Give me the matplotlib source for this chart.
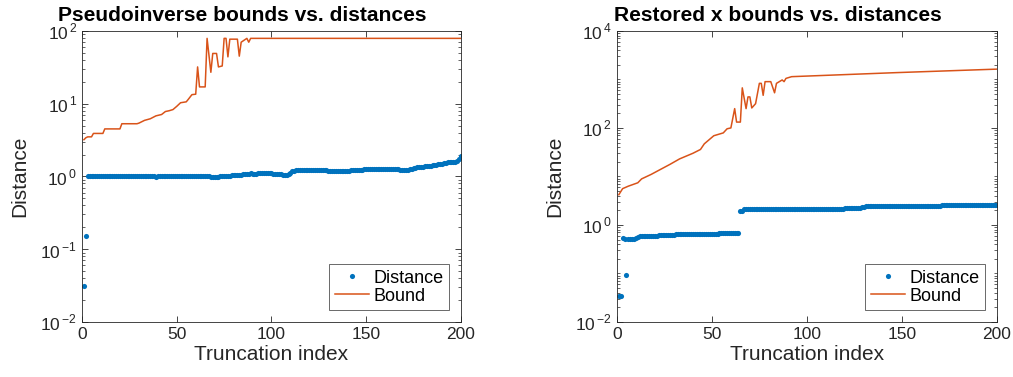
import matplotlib
matplotlib.use('Agg')
import matplotlib.pyplot as plt
import numpy as np
from matplotlib.ticker import LogLocator, FixedLocator, NullFormatter, FuncFormatter

plt.rcParams['font.family'] = ['Liberation Sans', 'DejaVu Sans']
plt.rcParams['mathtext.fontset'] = 'custom'
plt.rcParams['mathtext.rm'] = 'Liberation Sans'

blue = '#0072BD'
orange = '#D95319'
grey = '#262626'

# ---- left panel: pseudoinverse ----
dist_left = [
  0.031, 0.15, 1.0, 1.0, 1.0, 1.0, 1.0, 1.0, 1.0, 1.0,
  1.0, 1.0, 1.0, 1.0, 1.0, 1.0, 1.0, 1.0, 1.0, 1.0,
  1.0, 1.0, 1.0, 1.0, 1.0, 1.0, 1.0, 1.0, 1.0, 1.0,
  1.0, 1.0, 1.0, 1.0, 1.0, 1.0, 1.0, 1.0, 0.97, 1.0,
  1.0, 1.0, 1.0, 1.0, 1.01, 1.01, 1.01, 1.01, 1.01, 1.01,
  1.01, 1.01, 1.01, 1.01, 1.01, 1.01, 1.01, 1.01, 1.01, 1.01,
  1.01, 1.01, 1.01, 1.01, 1.0, 1.0, 1.0, 0.99, 0.98, 0.98,
  0.98, 0.99, 1.0, 1.0, 1.01, 1.02, 1.03, 1.03, 1.04, 1.04,
  1.05, 1.05, 1.04, 1.06, 1.07, 1.07, 1.08, 1.09, 1.1, 1.08,
  1.07, 1.08, 1.1, 1.12, 1.13, 1.12, 1.12, 1.11, 1.1, 1.1,
  1.09, 1.08, 1.08, 1.07, 1.07, 1.06, 1.06, 1.06, 1.07, 1.1,
  1.17, 1.2, 1.21, 1.22, 1.22, 1.22, 1.22, 1.22, 1.22, 1.22,
  1.22, 1.22, 1.22, 1.22, 1.22, 1.21, 1.21, 1.21, 1.21, 1.2,
  1.2, 1.2, 1.2, 1.19, 1.19, 1.19, 1.18, 1.18, 1.18, 1.19,
  1.2, 1.22, 1.23, 1.23, 1.23, 1.24, 1.24, 1.24, 1.25, 1.25,
  1.25, 1.25, 1.26, 1.26, 1.26, 1.26, 1.27, 1.27, 1.27, 1.27,
  1.27, 1.26, 1.26, 1.26, 1.25, 1.25, 1.25, 1.24, 1.24, 1.24,
  1.24, 1.24, 1.25, 1.26, 1.3, 1.32, 1.33, 1.33, 1.34, 1.35,
  1.37, 1.38, 1.4, 1.41, 1.42, 1.43, 1.45, 1.47, 1.48, 1.5,
  1.52, 1.55, 1.56, 1.56, 1.57, 1.57, 1.58, 1.65, 1.75, 1.9,
]
bound_left_idx = [1, 2, 3, 5, 6, 11, 12, 20, 21, 29, 30, 33, 36, 39, 42, 44, 46, 48, 50, 52,
                  55, 56, 58, 60, 61, 62, 65, 66, 68, 69, 71, 72, 74, 75, 76, 77, 78, 82, 83,
                  84, 87, 88, 89, 200]
bound_left = [3.2, 3.4, 3.5, 3.5, 3.9, 3.9, 4.5, 4.5, 5.3, 5.3, 5.4, 5.9, 6.2, 6.8, 7.1, 7.8, 8.0,
              8.3, 9.2, 10.3, 10.6, 11.4, 13.3, 13.5, 32, 17, 17, 79, 27, 49, 49, 32, 33, 79, 79,
              44, 77, 77, 45, 70, 79, 70, 79, 79]

# ---- right panel: restored x ----
dist_right = [
  0.034, 0.034, 0.55, 0.52, 0.094, 0.51, 0.51, 0.51, 0.52, 0.53,
  0.56, 0.58, 0.58, 0.58, 0.59, 0.59, 0.59, 0.59, 0.60, 0.60,
  0.60, 0.61, 0.61, 0.61, 0.62, 0.62, 0.62, 0.63, 0.63, 0.63,
  0.64, 0.64, 0.64, 0.64, 0.65, 0.65, 0.65, 0.65, 0.65, 0.65,
  0.65, 0.65, 0.66, 0.66, 0.66, 0.66, 0.66, 0.66, 0.66, 0.66,
  0.66, 0.66, 0.66, 0.67, 0.67, 0.67, 0.67, 0.67, 0.67, 0.67,
  0.67, 0.67, 0.67, 0.68, 1.9, 1.95, 2.1, 2.15, 2.15, 2.15,
  2.15, 2.15, 2.15, 2.15, 2.14, 2.14, 2.14, 2.13, 2.13, 2.13,
  2.12, 2.12, 2.12, 2.12, 2.11, 2.11, 2.11, 2.11, 2.1, 2.1,
  2.1, 2.1, 2.1, 2.1, 2.1, 2.1, 2.11, 2.11, 2.12, 2.12,
  2.13, 2.13, 2.14, 2.14, 2.15, 2.15, 2.15, 2.16, 2.16, 2.16,
  2.17, 2.17, 2.17, 2.17, 2.18, 2.18, 2.18, 2.18, 2.18, 2.19,
  2.19, 2.19, 2.2, 2.2, 2.2, 2.2, 2.2, 2.22, 2.3, 2.4,
  2.45, 2.48, 2.5, 2.5, 2.5, 2.5, 2.5, 2.5, 2.5, 2.5,
  2.5, 2.5, 2.5, 2.5, 2.5, 2.5, 2.5, 2.5, 2.5, 2.5,
  2.5, 2.5, 2.5, 2.5, 2.5, 2.5, 2.5, 2.5, 2.5, 2.5,
  2.5, 2.5, 2.5, 2.51, 2.51, 2.51, 2.51, 2.51, 2.51, 2.51,
  2.52, 2.52, 2.52, 2.52, 2.52, 2.52, 2.53, 2.53, 2.53, 2.53,
  2.54, 2.54, 2.54, 2.55, 2.55, 2.55, 2.56, 2.56, 2.57, 2.57,
  2.57, 2.58, 2.58, 2.58, 2.59, 2.59, 2.6, 2.6, 2.6, 2.62,
]
bound_right_idx = [1, 3, 6, 11, 13, 18, 23, 28, 33, 40, 44, 46, 51, 56, 58, 60, 62, 63, 65, 66,
                   68, 69, 70, 71, 73, 75, 76, 77, 78, 81, 83, 84, 87, 88, 89, 92, 147, 200]
bound_right = [4.2, 5.6, 6.3, 7.4, 8.9, 11, 14, 17.8, 23, 30, 36, 47, 69, 79, 96, 100, 250, 132,
               132, 670, 250, 436, 436, 258, 316, 830, 830, 470, 900, 900, 530, 830, 975, 900,
               1050, 1140, 1380, 1630]

panels = [
  ('Pseudoinverse bounds vs. distances', dist_left, bound_left_idx, bound_left,
   (1e-2, 1e2), [1e-2, 1e-1, 1e0, 1e1, 1e2]),
  ('Restored x bounds vs. distances', dist_right, bound_right_idx, bound_right,
   (1e-2, 1e4), [1e-2, 1e0, 1e2, 1e4]),
]


def pow10(v, pos):
  e = int(round(np.log10(v)))
  return r'$\mathdefault{10}^{\,\mathdefault{%d}}$' % e


fig = plt.figure(figsize=(10.13, 3.77), dpi=100)
rects = [[0.081, 0.146, 0.374, 0.772], [0.609, 0.146, 0.375, 0.772]]

for rect, (title, dist, bidx, bval, ylim, majors) in zip(rects, panels):
  ax = fig.add_axes(rect)
  idx = np.arange(1, len(dist) + 1)
  ax.plot(idx, dist, linestyle='none', marker='o', ms=3.7, mew=0, color=blue, label='Distance')
  ax.plot(bidx, bval, color=orange, lw=1.1, label='Bound')
  ax.set_yscale('log')
  ax.set_xlim(0, 200)
  ax.set_ylim(*ylim)
  ax.set_xticks([0, 50, 100, 150, 200])
  ax.yaxis.set_major_locator(FixedLocator(majors))
  ax.yaxis.set_major_formatter(FuncFormatter(pow10))
  ax.yaxis.set_minor_locator(LogLocator(base=10, subs=np.arange(1, 10), numticks=20))
  ax.yaxis.set_minor_formatter(NullFormatter())
  ax.tick_params(which='both', direction='in', top=True, right=True, colors=grey, labelsize=12.5)
  ax.tick_params(which='major', length=4.5, width=0.6)
  ax.tick_params(which='minor', length=2.5, width=0.5)
  for sp in ax.spines.values():
    sp.set_color(grey)
    sp.set_linewidth(0.6)
  ax.set_xlabel('Truncation index', fontsize=15, color=grey, labelpad=2)
  ax.set_ylabel('Distance', fontsize=15, color=grey, labelpad=8)
  ax.text(0.424, 1.034, title, transform=ax.transAxes, ha='center', va='baseline',
          fontsize=15.1, fontweight='bold')
  leg = ax.legend(loc='lower right', fontsize=13, frameon=True, fancybox=False,
                  edgecolor=grey, handlelength=1.9, borderpad=0.3, labelspacing=0.05,
                  handletextpad=0.25, borderaxespad=0.66, markerscale=1.0)
  leg.get_frame().set_linewidth(0.6)

fig.savefig('out.png', dpi=100)
